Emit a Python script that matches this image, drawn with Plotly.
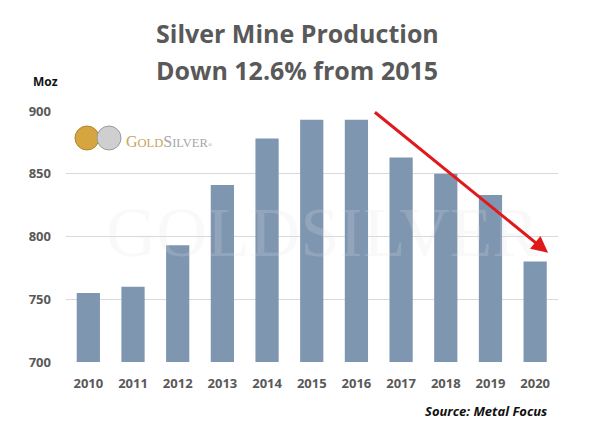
import plotly.graph_objects as go

years = ["2010", "2011", "2012", "2013", "2014", "2015", "2016", "2017", "2018", "2019", "2020"]
production = [755, 760, 793, 841, 878, 893, 893, 863, 850, 833, 780]
y_ticks = [700, 750, 800, 850, 900]

W, H = 605, 433
L, R, T, B = 66, 47, 111, 71
pw, ph = W - L - R, H - T - B

def px(x):
    return (x - L) / pw

def py(y):
    return (H - B - y) / ph

fig = go.Figure()
fig.add_trace(go.Bar(x=years, y=production, marker_color="#7f96b1",
                     marker_line_width=0, width=0.52))

lab_font = dict(family="Open Sans, Liberation Sans, sans-serif", size=13, color="#595959", weight=700)

annotations = [
    dict(text="Silver Mine Production", xref="paper", yref="paper", x=px(297), y=py(33),
         showarrow=False, xanchor="center", yanchor="middle",
         font=dict(family="Open Sans", size=25, color="#595959", weight=700)),
    dict(text="Down 12.6% from 2015", xref="paper", yref="paper", x=px(297), y=py(70),
         showarrow=False, xanchor="center", yanchor="middle",
         font=dict(family="Open Sans", size=25, color="#595959", weight=700)),
    dict(text="<b>Moz</b>", xref="paper", yref="paper", x=px(45), y=py(81),
         showarrow=False, xanchor="center", yanchor="middle",
         font=dict(family="Open Sans", size=12, color="#111111")),
    dict(text="<b><i>Source: Metal Focus</i></b>", xref="paper", yref="paper", x=px(549), y=py(411),
         showarrow=False, xanchor="right", yanchor="middle",
         font=dict(family="Open Sans", size=13, color="#111111")),
    # watermark
    dict(text="GOLDSILVER", xref="paper", yref="paper", x=px(322), y=py(232),
         showarrow=False, xanchor="center", yanchor="middle",
         font=dict(family="Liberation Serif", size=70, color="rgba(225,225,225,0.2)")),
    # logo text
    dict(text="<span style='color:#c9a55c'>G<span style='font-size:12.5px'>OLD</span></span>"
              "<span style='color:#a6a6a6'>S<span style='font-size:12.5px'>ILVER</span></span>"
              "<span style='color:#a6a6a6;font-size:6px'>®</span>",
         xref="paper", yref="paper", x=px(124), y=py(141),
         showarrow=False, xanchor="left", yanchor="middle",
         font=dict(family="Liberation Serif", size=16)),
    # trend arrow
    dict(text="", x=10.29, y=787, xref="x", yref="y", ax=6.38, ay=900, axref="x", ayref="y",
         showarrow=True, arrowhead=2, arrowsize=1.1, arrowwidth=3, arrowcolor="#e0191b"),
]

shapes = [
    dict(type="circle", xref="paper", yref="paper",
         x0=px(75), x1=px(99), y0=py(150), y1=py(126),
         fillcolor="#d6a53f", line=dict(color="#b4832c", width=1), layer="above"),
    dict(type="circle", xref="paper", yref="paper",
         x0=px(97), x1=px(121), y0=py(150), y1=py(126),
         fillcolor="#cfcfcf", line=dict(color="#9a9a9a", width=1), layer="above"),
]

fig.update_layout(
    width=W, height=H,
    margin=dict(l=L, r=R, t=T, b=B),
    paper_bgcolor="white", plot_bgcolor="white",
    showlegend=False,
    annotations=annotations,
    shapes=shapes,
    xaxis=dict(type="category", tickfont=lab_font, showgrid=False, showline=False,
               ticks="", ticklabelstandoff=12, fixedrange=True),
    yaxis=dict(range=[700, 900], tickvals=y_ticks, tickfont=lab_font,
               showgrid=True, gridcolor="#d9d9d9", gridwidth=1, zeroline=False,
               showline=False, ticks="", ticklabelstandoff=14),
)

fig.write_html("out.html", config={"displayModeBar": False},
               post_script="document.body.style.margin='0';document.body.style.padding='0';")
